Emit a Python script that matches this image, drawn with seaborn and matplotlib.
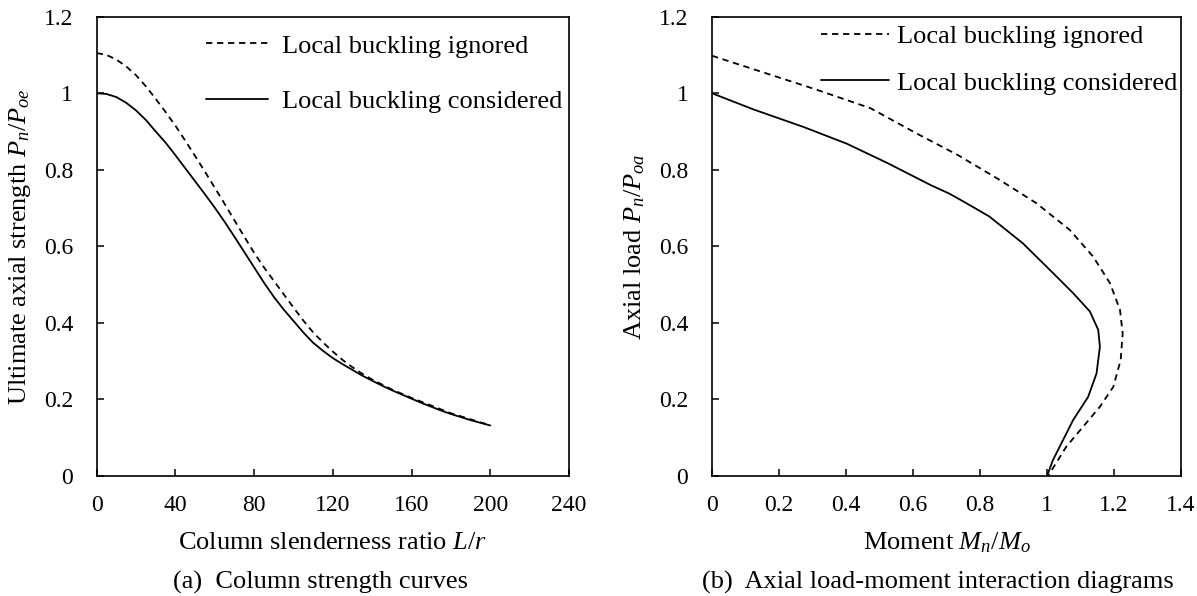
import numpy as np
import pandas as pd
import matplotlib
matplotlib.use("Agg")
import matplotlib.pyplot as plt
import seaborn as sns
from matplotlib.ticker import FuncFormatter, MultipleLocator

# ---------------- data ----------------
slenderness = [0, 5, 10, 15, 20, 25, 30, 35, 40, 45, 50, 55, 60, 65, 70, 75,
               80, 85, 90, 95, 100, 105, 110, 115, 120, 125, 130, 135, 140,
               145, 150, 155, 160, 165, 170, 175, 180, 185, 190, 195, 200]
strength_ignored = [1.105, 1.100, 1.088, 1.070, 1.047, 1.018, 0.985, 0.951,
                    0.915, 0.876, 0.836, 0.795, 0.753, 0.711, 0.668, 0.625,
                    0.583, 0.545, 0.510, 0.475, 0.440, 0.406, 0.375, 0.349,
                    0.325, 0.303, 0.284, 0.267, 0.252, 0.239, 0.226, 0.215,
                    0.204, 0.194, 0.184, 0.174, 0.164, 0.156, 0.148, 0.140,
                    0.133]
strength_considered = [1.000, 0.998, 0.990, 0.975, 0.955, 0.930, 0.900, 0.871,
                       0.838, 0.804, 0.770, 0.736, 0.701, 0.664, 0.625, 0.585,
                       0.545, 0.505, 0.468, 0.435, 0.405, 0.375, 0.348, 0.327,
                       0.308, 0.292, 0.277, 0.262, 0.249, 0.236, 0.224, 0.213,
                       0.202, 0.191, 0.181, 0.171, 0.162, 0.154, 0.146, 0.139,
                       0.132]

moment_ignored = [0.0, 0.123, 0.303, 0.473, 0.613, 0.733, 0.858, 0.968, 1.068,
                  1.138, 1.188, 1.218, 1.226, 1.220, 1.198, 1.158, 1.108,
                  1.058, 1.003]
load_ignored = [1.098, 1.063, 1.012, 0.961, 0.894, 0.839, 0.774, 0.713, 0.643,
                0.573, 0.504, 0.434, 0.373, 0.303, 0.233, 0.181, 0.129,
                0.077, 0.0]
moment_considered = [0.0, 0.123, 0.273, 0.403, 0.523, 0.653, 0.708, 0.753,
                     0.828, 0.928, 1.008, 1.078, 1.128, 1.153, 1.158, 1.148,
                     1.123, 1.078, 1.048, 1.018, 1.0]
load_considered = [1.0, 0.958, 0.912, 0.868, 0.818, 0.760, 0.738, 0.716,
                   0.678, 0.608, 0.539, 0.478, 0.430, 0.382, 0.338, 0.268,
                   0.207, 0.146, 0.094, 0.042, 0.0]

label_ignored = "Local buckling ignored"
label_considered = "Local buckling considered"

# ---------------- style ----------------
TICK_FS = 17
TEXT_FS = 19

sns.set_theme(style="white")
plt.rcParams.update({
    "font.size": TEXT_FS,
    "axes.edgecolor": "black",
    "axes.linewidth": 1.2,
    "xtick.color": "black",
    "ytick.color": "black",
    "text.color": "black",
    "axes.labelcolor": "black",
    "mathtext.fontset": "custom",
    "mathtext.rm": "Liberation Serif",
    "mathtext.it": "Liberation Serif:italic",
    "mathtext.bf": "Liberation Serif:bold",
})
plt.rcParams["font.family"] = ["Liberation Serif", "DejaVu Serif"]

fig = plt.figure(figsize=(11.97, 5.96), dpi=100)
ax1 = fig.add_axes([0.0808, 0.2013, 0.3946, 0.7707])
ax2 = fig.add_axes([0.5948, 0.2013, 0.3918, 0.7707])

DASH = [3.5, 2.6]
LW = 1.3

# ---- (a) column strength curves ----
sns.lineplot(x=slenderness, y=strength_ignored, ax=ax1, color="black",
             lw=LW, label=label_ignored, sort=False, estimator=None)
ax1.lines[-1].set_dashes(DASH)
sns.lineplot(x=slenderness, y=strength_considered, ax=ax1, color="black",
             lw=LW, label=label_considered, sort=False, estimator=None)

ax1.set_xlim(0, 240)
ax1.set_ylim(0, 1.2)
ax1.xaxis.set_major_locator(MultipleLocator(40))
ax1.yaxis.set_major_locator(MultipleLocator(0.2))
ax1.set_xlabel("Column slenderness ratio $L/r$", fontsize=TEXT_FS)
ax1.set_ylabel("Ultimate axial strength $P_n/P_{oe}$", fontsize=TEXT_FS)

# ---- (b) interaction diagrams ----
sns.lineplot(x=moment_ignored, y=load_ignored, ax=ax2, color="black",
             lw=LW, label=label_ignored, sort=False, estimator=None)
ax2.lines[-1].set_dashes(DASH)
sns.lineplot(x=moment_considered, y=load_considered, ax=ax2, color="black",
             lw=LW, label=label_considered, sort=False, estimator=None)

ax2.set_xlim(0, 1.4)
ax2.set_ylim(0, 1.2)
ax2.xaxis.set_major_locator(MultipleLocator(0.2))
ax2.yaxis.set_major_locator(MultipleLocator(0.2))
ax2.set_xlabel("Moment $M_n/M_o$", fontsize=TEXT_FS)
ax2.set_ylabel("Axial load $P_n/P_{oa}$", fontsize=TEXT_FS)

fmt = FuncFormatter(lambda v, _: f"{round(v, 6):g}")
for ax, ylx in ((ax1, -0.162), (ax2, -0.164)):
    ax.xaxis.set_major_formatter(fmt)
    ax.yaxis.set_major_formatter(fmt)
    for s in ax.spines.values():
        s.set_visible(True)
        s.set_color("black")
        s.set_linewidth(1.2)
    ax.tick_params(axis="both", which="major", direction="in", length=5,
                   width=1.1, labelsize=TICK_FS, top=False, right=False,
                   bottom=True, left=True)
    ax.tick_params(axis="x", pad=14)
    ax.tick_params(axis="y", pad=17)
    ax.xaxis.set_label_coords(0.5, -0.146)
    ax.xaxis.label.set_va("center")
    ax.yaxis.set_label_coords(ylx, 0.5)
    ax.yaxis.label.set_va("center")
    ax.grid(False)

ax1.legend(loc="upper right", bbox_to_anchor=(0.985, 0.962), frameon=False,
           fontsize=TEXT_FS, borderpad=0, borderaxespad=0, handlelength=2.35,
           handletextpad=0.53, labelspacing=1.22)
ax2.legend(loc="upper right", bbox_to_anchor=(0.993, 0.983), frameon=False,
           fontsize=TEXT_FS, borderpad=0, borderaxespad=0, handlelength=2.6,
           handletextpad=0.3, labelspacing=0.88)

fig.text(0.268, 0.022, "(a)  Column strength curves", ha="center",
         va="center", fontsize=TEXT_FS)
fig.text(0.7836, 0.022, "(b)  Axial load-moment interaction diagrams",
         ha="center", va="center", fontsize=TEXT_FS)

fig.savefig("out.png", dpi=100)
